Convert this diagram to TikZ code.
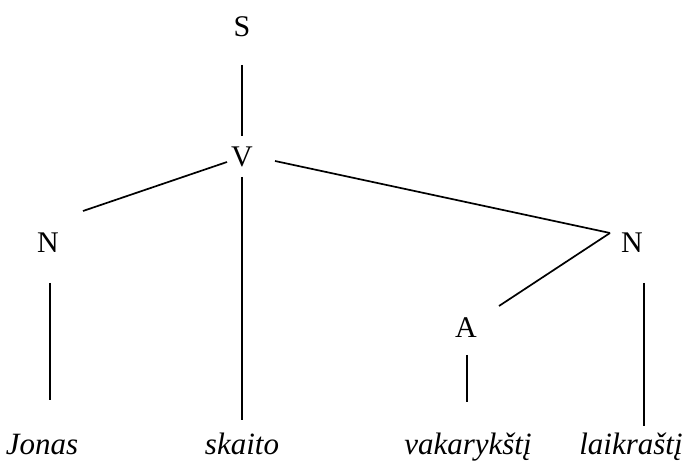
\documentclass[tikz,border=0pt]{standalone}
\usepackage{fontspec}
\setmainfont{Liberation Serif}
\usepackage{tikz}
\usetikzlibrary{calc}
\tikzset{
  cat/.style={anchor=base,inner sep=0pt,font=\fontsize{30}{36}\selectfont},
  word/.style={anchor=base,inner sep=0pt,font=\fontsize{31}{37}\selectfont\itshape},
  br/.style={line width=1.7pt,black}
}
\begin{document}
\begin{tikzpicture}[x=1pt,y=-1pt]
\useasboundingbox (0,0) rectangle (686,462);
\node[cat] (S) at (242,37) {S};
\node[cat] (V) at (242,167) {V};
\node[cat] (NJ) at (48,253) {N};
\node[cat] (NL) at (632,253) {N};
\node[cat] (A) at (466,338) {A};
\node[word] (jonas) at (42,455) {Jonas};
\node[word] (skaito) at (242,455) {skaito};
\node[word] (vak) at (468,455) {vakarykštį};
\node[word] (laik) at (631,455) {laikraštį};
\draw[br] ([shift={(0,28)}]S.base) -- ([shift={(0,-31)}]V.base);
\draw[br] ([shift={(-15,-5)}]V.base) -- ([shift={(35,-42)}]NJ.base);
\draw[br] ([shift={(0,10)}]V.base) -- ([shift={(0,-35)}]skaito.base);
\draw[br] ([shift={(33,-6)}]V.base) -- ([shift={(-22,-20)}]NL.base);
\draw[br] ([shift={(-22,-20)}]NL.base) -- ([shift={(33,-32)}]A.base);
\draw[br] ([shift={(2,30)}]NJ.base) -- ([shift={(8,-55)}]jonas.base);
\draw[br] ([shift={(1,17)}]A.base) -- ([shift={(-1,-53)}]vak.base);
\draw[br] ([shift={(12,30)}]NL.base) -- ([shift={(13,-29)}]laik.base);
\end{tikzpicture}
\end{document}
